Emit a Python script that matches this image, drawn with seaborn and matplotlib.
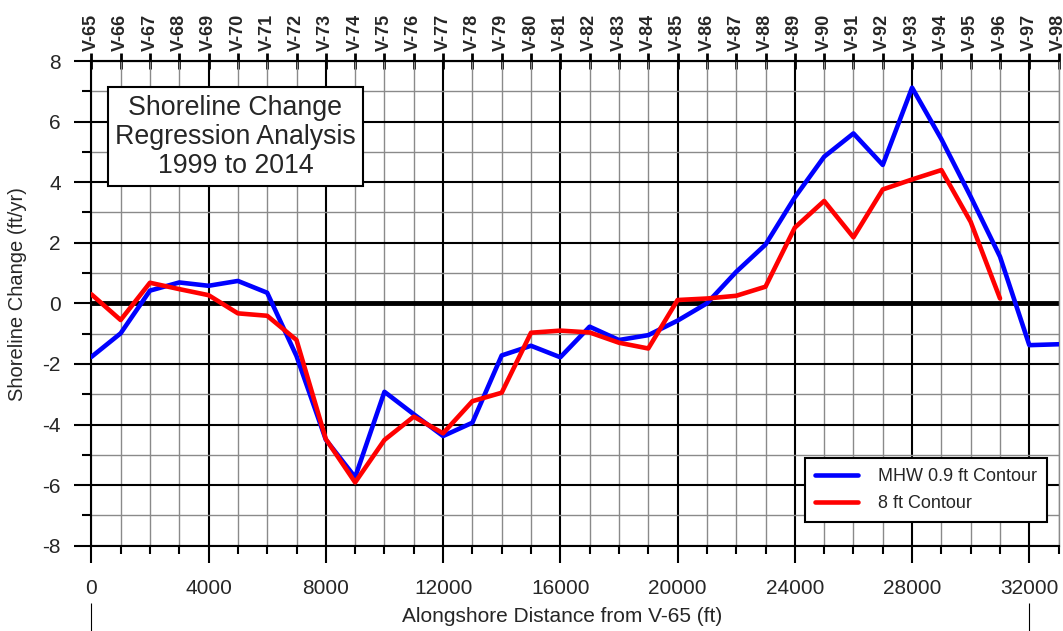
import matplotlib
matplotlib.use("Agg")
import matplotlib.pyplot as plt
import matplotlib.transforms as mtransforms
from matplotlib.ticker import MultipleLocator, FixedLocator
import pandas as pd
import seaborn as sns

# Alongshore distance of each transect from V-65 (ft)
distance_ft = [0, 1000, 2000, 3000, 4000, 5000, 6000, 7000, 8000, 9000,
               10000, 11000, 12000, 13000, 14000, 15000, 16000, 17000, 18000, 19000,
               20000, 21000, 22000, 23000, 24000, 25000, 26000, 27000, 28000, 29000,
               30000, 31000, 32000, 33000]

# Transect names along the top axis
stations = ["V-65", "V-66", "V-67", "V-68", "V-69", "V-70", "V-71", "V-72", "V-73", "V-74",
            "V-75", "V-76", "V-77", "V-78", "V-79", "V-80", "V-81", "V-82", "V-83", "V-84",
            "V-85", "V-86", "V-87", "V-88", "V-89", "V-90", "V-91", "V-92", "V-93", "V-94",
            "V-95", "V-96", "V-97", "V-98"]

# Shoreline change rate, MHW 0.9 ft contour (ft/yr), V-65 .. V-98
mhw_rate = [-1.77, -0.99, 0.42, 0.69, 0.58, 0.74, 0.35, -1.74, -4.50, -5.74,
            -2.92, -3.66, -4.38, -3.94, -1.72, -1.40, -1.78, -0.77, -1.21, -1.05,
            -0.57, 0.00, 1.04, 1.94, 3.50, 4.84, 5.61, 4.57, 7.12, 5.42,
            3.52, 1.54, -1.38, -1.35]

# Shoreline change rate, 8 ft contour (ft/yr), V-65 .. V-96
contour8_rate = [0.30, -0.55, 0.68, 0.47, 0.27, -0.33, -0.41, -1.21, -4.48, -5.91,
                 -4.51, -3.74, -4.29, -3.23, -2.95, -0.97, -0.90, -0.96, -1.30, -1.49,
                 0.11, 0.16, 0.25, 0.55, 2.50, 3.38, 2.18, 3.76, 4.09, 4.40,
                 2.69, 0.16]

series_names = ["MHW 0.9 ft Contour", "8 ft Contour"]
series_colors = ["#0000FF", "#FF0000"]

df = pd.concat([
    pd.DataFrame({"distance": distance_ft, "rate": mhw_rate, "series": series_names[0]}),
    pd.DataFrame({"distance": distance_ft[:len(contour8_rate)], "rate": contour8_rate,
                  "series": series_names[1]}),
], ignore_index=True)

sns.set_style("white")
plt.rcParams["font.family"] = ["Liberation Sans", "DejaVu Sans"]
plt.rcParams["axes.unicode_minus"] = False

fig = plt.figure(figsize=(10.63, 6.31), dpi=100)
ax = fig.add_axes([0.0859, 0.1352, 0.9100, 0.7681])

sns.lineplot(data=df, x="distance", y="rate", hue="series", hue_order=series_names,
             palette=series_colors, linewidth=3.3, sort=False, ax=ax, zorder=3)

ax.set_xlim(0, 33000)
ax.set_ylim(-8, 8)

# grid: heavy black every 4000 ft / 2 ft/yr, grey every 1000 ft / 1 ft/yr
ax.xaxis.set_major_locator(MultipleLocator(4000))
ax.xaxis.set_minor_locator(MultipleLocator(1000))
ax.yaxis.set_major_locator(MultipleLocator(2))
ax.yaxis.set_minor_locator(MultipleLocator(1))
ax.grid(which="minor", color="#8a8a8a", linewidth=1.0)
ax.grid(which="major", color="black", linewidth=1.5)
ax.set_axisbelow(True)
ax.axhline(0, color="black", linewidth=3.5, zorder=2)

for side in ["left", "bottom", "top"]:
    ax.spines[side].set_color("black")
    ax.spines[side].set_linewidth(1.5)
ax.spines["right"].set_color("#8a8a8a")
ax.spines["right"].set_linewidth(1.0)

ax.tick_params(axis="x", which="major", direction="out", length=12, width=1.5,
               labelsize=15, pad=12, color="black", bottom=True)
ax.tick_params(axis="x", which="minor", direction="out", length=6, width=1.5,
               color="black", bottom=True)
ax.tick_params(axis="y", which="major", direction="out", length=12, width=1.5,
               labelsize=15, pad=10, color="black", left=True)
ax.tick_params(axis="y", which="minor", direction="out", length=6.5, width=1.5,
               color="black", left=True)

ax.set_xlabel("Alongshore Distance from V-65 (ft)", fontsize=15)
ax.set_ylabel("Shoreline Change (ft/yr)", fontsize=14.5)
ax.xaxis.set_label_coords(0.487, -0.126)
ax.yaxis.set_label_coords(-0.066, 0.52)

# transect names on the top axis
top = ax.secondary_xaxis("top")
top.xaxis.set_major_locator(FixedLocator(distance_ft))
top.set_xticklabels(stations, rotation=90, fontsize=13, fontweight="bold")
top.tick_params(axis="x", which="major", direction="inout", length=11, width=2,
                pad=2, color="black")
top.tick_params(axis="x", which="minor", length=0)
top.spines["top"].set_linewidth(1.5)

# short leader marks under the distance axis
trans = mtransforms.blended_transform_factory(ax.transData, ax.transAxes)
ax.vlines([distance_ft[0], distance_ft[32]], -0.176, -0.118, transform=trans,
          colors="black", linewidth=0.8, clip_on=False)

ax.text(0.149, 0.844, "Shoreline Change\nRegression Analysis\n1999 to 2014",
        transform=ax.transAxes, ha="center", va="center", multialignment="center",
        fontsize=19.3, linespacing=1.15, zorder=5,
        bbox=dict(boxstyle="square,pad=0.28", facecolor="white", edgecolor="black",
                  linewidth=1.5))

leg = ax.legend(loc="upper right", bbox_to_anchor=(0.988, 0.181), fontsize=13,
                frameon=True, fancybox=False, handlelength=2.4, borderpad=0.55,
                labelspacing=0.55, handletextpad=1.1, borderaxespad=0)
leg.get_frame().set_edgecolor("black")
leg.get_frame().set_linewidth(1.5)
leg.get_frame().set_alpha(1.0)
leg.set_zorder(6)

fig.savefig("out.png", dpi=100)
